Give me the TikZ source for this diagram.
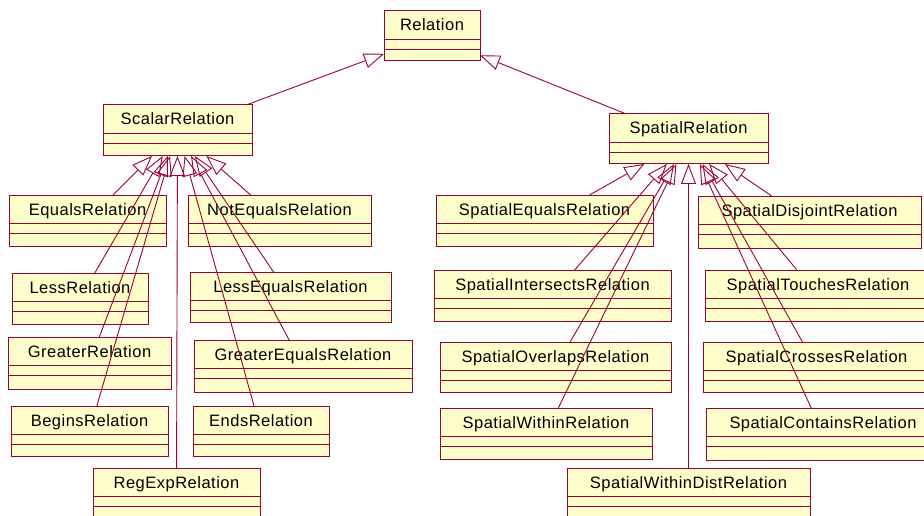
\documentclass[tikz,border=0pt]{standalone}
\usepackage{fontspec}
\setmainfont{Liberation Sans}[LetterSpace=3]
\usetikzlibrary{arrows.meta}

\definecolor{umlborder}{RGB}{153,0,51}
\definecolor{umlfill}{RGB}{255,255,204}

\tikzset{
  umlbox/.style={draw=umlborder, fill=umlfill, line width=1pt, rectangle,
    inner sep=0pt, outer sep=0pt},
  umlrule/.style={draw=umlborder, line width=0.9pt},
  umltitle/.style={anchor=base, inner sep=0pt, text=black,
    font=\fontsize{16.5}{19}\selectfont},
  umlgen/.style={draw=umlborder, line width=0.9pt,
    -{Triangle[open, length=20pt, width=15pt, line width=0.9pt]}},
}

% class box: name, left, top, right, bottom, title
\newcommand\umlclass[6]{%
  \node[umlbox, minimum width={(#4-#2)*1pt}, minimum height={(#5-#3)*1pt}]
    (#1) at ({(#2+#4)/2},{(#3+#5)/2}) {};
  \draw[umlrule] ([yshift=-28pt]#1.north west) -- ([yshift=-28pt]#1.north east);
  \draw[umlrule] ([yshift=-38pt]#1.north west) -- ([yshift=-38pt]#1.north east);
  \node[umltitle] (#1-title) at ([yshift=-20pt]#1.north) {#6};
}

\begin{document}
\begin{tikzpicture}[x=1pt, y=-1pt]
  \useasboundingbox (0,0) rectangle (924,516);
  \fill[white] (0,0) rectangle (924,516);
  \clip (0,0) rectangle (924,516);

  % root and the two abstract branches
  \umlclass{rel}{384}{11}{480}{61}{Relation}
  \umlclass{scalar}{103}{105}{252}{156}{ScalarRelation}
  \umlclass{spatial}{609}{114}{768}{164}{SpatialRelation}

  % scalar relations
  \umlclass{equals}{9}{195}{166}{246}{EqualsRelation}
  \umlclass{less}{12}{273}{148}{324}{LessRelation}
  \umlclass{greater}{8}{337}{171}{389}{GreaterRelation}
  \umlclass{begins}{11}{406}{168}{456}{BeginsRelation}
  \umlclass{regexp}{93}{468}{260}{519}{RegExpRelation}
  \umlclass{notequals}{188}{195}{371}{246}{NotEqualsRelation}
  \umlclass{lessequals}{190}{272}{391}{322}{LessEqualsRelation}
  \umlclass{greaterequals}{194}{340}{412}{392}{GreaterEqualsRelation}
  \umlclass{ends}{193}{406}{329}{456}{EndsRelation}

  % spatial relations
  \umlclass{sequals}{436}{195}{653}{246}{SpatialEqualsRelation}
  \umlclass{sintersects}{434}{270}{671}{321}{SpatialIntersectsRelation}
  \umlclass{soverlaps}{440}{342}{671}{392}{SpatialOverlapsRelation}
  \umlclass{swithin}{440}{408}{652}{459}{SpatialWithinRelation}
  \umlclass{swithindist}{567}{468}{810}{519}{SpatialWithinDistRelation}
  \umlclass{sdisjoint}{698}{196}{921}{248}{SpatialDisjointRelation}
  \umlclass{stouches}{705}{270}{931}{321}{SpatialTouchesRelation}
  \umlclass{scrosses}{703}{342}{930}{392}{SpatialCrossesRelation}
  \umlclass{scontains}{706}{408}{940}{460}{SpatialContainsRelation}

  % generalizations
  \draw[umlgen] (scalar) -- (rel);
  \draw[umlgen] (spatial) -- (rel);

  \foreach \child in {equals, less, greater, begins, regexp,
                      notequals, lessequals, greaterequals, ends}
    \draw[umlgen] (\child) -- (scalar);

  \foreach \child in {sequals, sintersects, soverlaps, swithin, swithindist,
                      sdisjoint, stouches, scrosses, scontains}
    \draw[umlgen] (\child) -- (spatial);
\end{tikzpicture}
\end{document}
